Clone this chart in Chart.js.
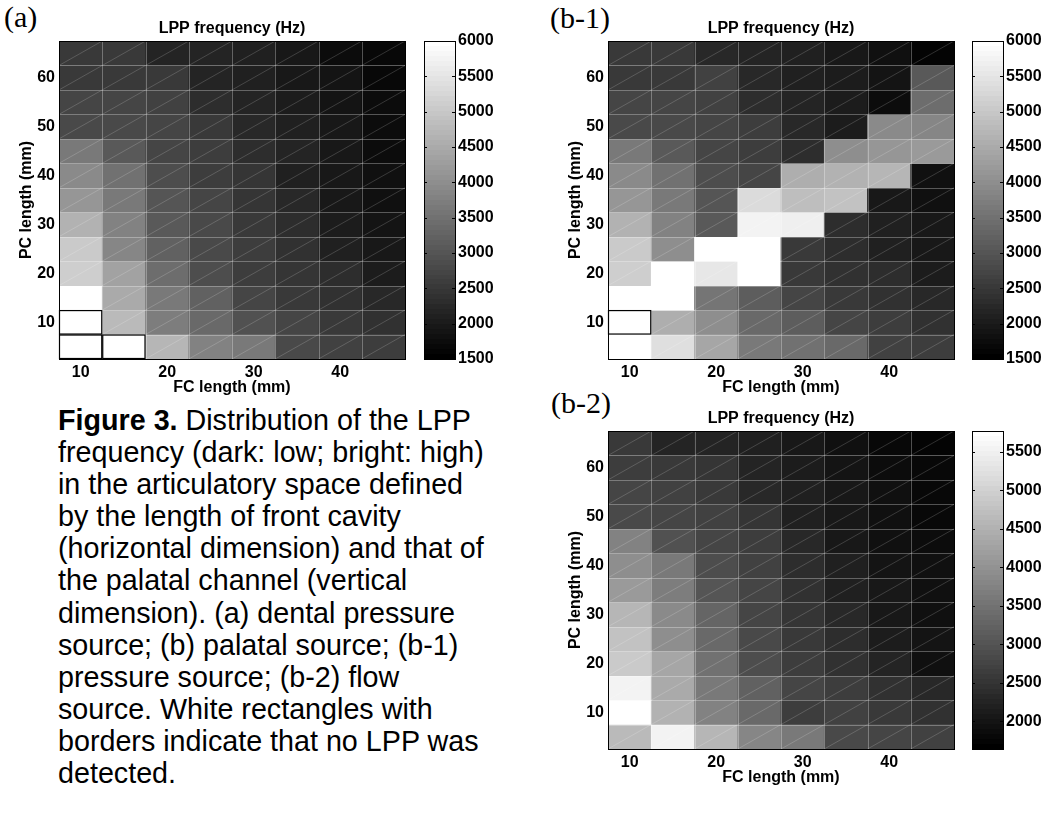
<!DOCTYPE html>
<html>
<head>
<meta charset="utf-8">
<script src="https://cdn.jsdelivr.net/npm/chart.js@4.4.1/dist/chart.umd.min.js"></script>
<style>
  body { margin: 0; background: #fff; width: 1045px; height: 813px; position: relative; overflow: hidden; }
  canvas { position: absolute; }
  .panel { position: absolute; font-family: "Liberation Serif", "Times New Roman", serif; font-size: 30px; line-height: 30px; color: #000; }
  #caption { position: absolute; left: 58px; top: 404px; font-family: "Liberation Sans", Arial, sans-serif; font-size: 28.7px; line-height: 32.1px; color: #000; white-space: nowrap; }
</style>
</head>
<body>
<div class="panel" style="left:4px; top:2px">(a)</div>
<div class="panel" style="left:550px; top:3px">(b-1)</div>
<div class="panel" style="left:551px; top:388px">(b-2)</div>

<canvas id="mapA" width="410" height="400" style="left:0; top:0"></canvas>
<canvas id="barA" width="73" height="400" style="left:424px; top:0"></canvas>
<canvas id="mapB1" width="410" height="400" style="left:549px; top:0"></canvas>
<canvas id="barB1" width="73" height="400" style="left:972px; top:0"></canvas>
<canvas id="mapB2" width="410" height="400" style="left:549px; top:390px"></canvas>
<canvas id="barB2" width="73" height="400" style="left:972px; top:390px"></canvas>

<div id="caption"><b>Figure 3.</b> Distribution of the LPP<br>frequency (dark: low; bright: high)<br>in the articulatory space defined<br>by the length of front cavity<br>(horizontal dimension) and that of<br>the palatal channel (vertical<br>dimension). (a) dental pressure<br>source; (b) palatal source; (b-1)<br>pressure source; (b-2) flow<br>source. White rectangles with<br>borders indicate that no LPP was<br>detected.</div>

<script>
// FC length (columns) and PC length (rows, top row first), mm
const fcLengths = [10, 15, 20, 25, 30, 35, 40, 45];
const pcLengths = [65, 60, 55, 50, 45, 40, 35, 30, 25, 20, 15, 10, 5];
const cellStep = 5;
const xTickLabels = [10, 20, 30, 40];
const yTickLabels = [10, 20, 30, 40, 50, 60];

// LPP frequency in Hz, one row per pcLengths entry; null = no LPP detected
const lppDental = [
  [2520, 2490, 2170, 2140, 2070, 1960, 1780, 1680],
  [2520, 2520, 2490, 2170, 2100, 1990, 1870, 1710],
  [2750, 2720, 2630, 2280, 2170, 2030, 1890, 1750],
  [2810, 2770, 2700, 2520, 2240, 2100, 1960, 1780],
  [3620, 3090, 2750, 2560, 2310, 2170, 1960, 1780],
  [3940, 3530, 2860, 2590, 2450, 2100, 1990, 1820],
  [4130, 3650, 3000, 2720, 2450, 2210, 1960, 1850],
  [4660, 3760, 3070, 2770, 2520, 2310, 2030, 1920],
  [5030, 3880, 3190, 2810, 2560, 2400, 2070, 1960],
  [5150, 4320, 3440, 2890, 2590, 2450, 2280, 2030],
  [6000, 4470, 3650, 3190, 2750, 2520, 2350, 2240],
  [null, 4750, 3720, 3390, 2950, 2700, 2490, 2350],
  [null, null, 4690, 3760, 3650, 2810, 2670, 2590],
];

const lppPalatalPressure = [
  [2520, 2490, 2240, 2170, 2100, 1960, 1820, 1640],
  [2520, 2520, 2630, 2210, 2100, 2030, 1890, 3050],
  [2750, 2700, 2630, 2310, 2170, 2030, 1750, 3440],
  [2810, 2770, 2750, 2560, 2210, 2030, 3940, 3850],
  [3620, 3070, 2750, 2590, 2310, 4010, 4130, 4220],
  [3900, 3530, 2860, 2720, 4540, 4610, 4690, 1850],
  [4130, 3650, 3000, 5330, 4840, 4920, 1990, 1850],
  [4660, 3780, 3070, 5740, 5680, 2280, 2100, 1990],
  [5030, 4010, 6000, 6000, 2520, 2310, 2100, 1960],
  [5150, 6000, 5560, 6000, 2520, 2400, 2280, 2030],
  [6000, 6000, 3600, 3160, 2700, 2520, 2400, 2240],
  [null, 4540, 4010, 3390, 3160, 2750, 2560, 2400],
  [6000, 5380, 4430, 3650, 3510, 3370, 2670, 2590],
];

const lppPalatalFlow = [
  [2580, 2260, 2260, 2190, 2090, 1960, 1830, 1720],
  [2610, 2580, 2520, 2260, 2130, 2000, 1870, 1770],
  [2790, 2680, 2580, 2320, 2160, 2030, 1900, 1800],
  [2840, 2790, 2680, 2520, 2190, 2060, 1930, 1830],
  [3730, 2970, 2740, 2610, 2320, 2090, 1960, 1870],
  [3940, 3620, 2900, 2680, 2390, 2160, 2000, 1900],
  [4140, 3680, 3020, 2760, 2470, 2190, 2060, 1930],
  [4570, 3840, 3290, 2790, 2520, 2290, 2090, 1960],
  [4800, 3940, 3370, 2840, 2580, 2390, 2130, 2000],
  [4930, 4310, 3490, 2900, 2610, 2470, 2260, 1960],
  [5560, 4360, 3620, 3200, 2790, 2610, 2470, 2320],
  [5770, 4540, 3710, 3370, 2640, 2680, 2580, 2470],
  [4620, 5530, 4570, 3800, 3620, 2840, 2790, 2710],
];

// colour limits and colorbar ticks
const rangeDental = [1500, 6000];
const rangePressure = [1500, 6000];
const rangeFlow = [1640, 5770];
const cbTicks = [1500, 2000, 2500, 3000, 3500, 4000, 4500, 5000, 5500, 6000];
const cbTicksFlow = [2000, 2500, 3000, 3500, 4000, 4500, 5000, 5500];

const axisFont = { family: '"Liberation Sans", Arial, sans-serif', size: 16, weight: 'bold' };
Chart.defaults.color = "#000";

// MATLAB-like 64 level gray map
function grayFor(v, lo, hi) {
  const idx = Math.min(63, Math.max(0, Math.floor(((v - lo) / (hi - lo)) * 64)));
  const g = Math.round((idx / 63) * 255);
  return `rgb(${g},${g},${g})`;
}

// grid lines, mesh diagonals, empty-cell borders and frame on top of the cells
const cellLines = {
  id: "cellLines",
  afterDatasetsDraw(chart, args, opts) {
    const { ctx, chartArea: a, scales: { x, y } } = chart;
    const xe = fcLengths.map((_, i) => x.getPixelForValue(i - 0.5));
    xe.push(x.getPixelForValue(fcLengths.length - 0.5));
    const ye = pcLengths.map((pc) => y.getPixelForValue(pc + cellStep / 2));
    ye.push(y.getPixelForValue(pcLengths[pcLengths.length - 1] - cellStep / 2));
    ctx.save();

    // diagonals
    ctx.strokeStyle = "rgba(255,255,255,0.22)";
    ctx.lineWidth = 0.8;
    ctx.beginPath();
    for (let r = 0; r < pcLengths.length; r++) {
      for (let c = 0; c < fcLengths.length; c++) {
        ctx.moveTo(xe[c], ye[r + 1]);
        ctx.lineTo(xe[c + 1], ye[r]);
      }
    }
    ctx.stroke();

    // cell boundaries
    ctx.strokeStyle = "rgba(255,255,255,0.3)";
    ctx.lineWidth = 1;
    ctx.beginPath();
    xe.forEach((px) => {
      const p = Math.round(px) + 0.5;
      ctx.moveTo(p, a.top);
      ctx.lineTo(p, a.bottom);
    });
    ye.forEach((py) => {
      const p = Math.round(py) + 0.5;
      ctx.moveTo(a.left, p);
      ctx.lineTo(a.right, p);
    });
    ctx.stroke();

    // no LPP detected
    ctx.strokeStyle = "#000";
    ctx.lineWidth = 1.2;
    opts.values.forEach((row, r) => {
      row.forEach((v, c) => {
        if (v === null) {
          ctx.strokeRect(xe[c] + 0.5, ye[r] + 0.5, xe[c + 1] - xe[c] - 1, ye[r + 1] - ye[r] - 1);
        }
      });
    });

    // axes box
    ctx.lineWidth = 1;
    ctx.strokeRect(Math.round(a.left) + 0.5, Math.round(a.top) + 0.5, Math.round(a.width), Math.round(a.height));
    ctx.restore();
  },
};

// frame and inward ticks of a colorbar
const barFrame = {
  id: "barFrame",
  afterDatasetsDraw(chart) {
    const { ctx, chartArea: a, scales: { y } } = chart;
    ctx.save();
    ctx.strokeStyle = "#000";
    ctx.lineWidth = 1;
    ctx.strokeRect(Math.round(a.left) + 0.5, Math.round(a.top) + 0.5, Math.round(a.width), Math.round(a.height));
    ctx.beginPath();
    y.ticks.forEach((t) => {
      const p = Math.round(y.getPixelForValue(t.value)) + 0.5;
      ctx.moveTo(a.left, p);
      ctx.lineTo(a.left + 3, p);
      ctx.moveTo(a.right - 3, p);
      ctx.lineTo(a.right, p);
    });
    ctx.stroke();
    ctx.restore();
  },
};

function heatmap(canvasId, values, range) {
  const [lo, hi] = range;
  const datasets = values.map((row, r) => ({
    data: fcLengths.map(() => [pcLengths[r] - cellStep / 2, pcLengths[r] + cellStep / 2]),
    backgroundColor: row.map((v) => (v === null ? "#fff" : grayFor(v, lo, hi))),
    borderWidth: 0,
    grouped: false,
    barPercentage: 1,
    categoryPercentage: 1,
  }));
  new Chart(document.getElementById(canvasId), {
    type: "bar",
    data: { labels: fcLengths.map(String), datasets },
    options: {
      responsive: false,
      animation: false,
      devicePixelRatio: 1,
      layout: { padding: { left: 0, right: 5, top: 0, bottom: 1 } },
      plugins: {
        legend: { display: false },
        tooltip: { enabled: false },
        title: {
          display: true,
          text: "LPP frequency (Hz)",
          fullSize: false,
          color: "#000",
          font: axisFont,
          padding: { top: 19.4, bottom: 2.4 },
        },
        cellLines: { values },
      },
      scales: {
        x: {
          type: "category",
          grid: { display: false, drawTicks: false },
          border: { display: false },
          ticks: {
            font: axisFont,
            padding: 4,
            autoSkip: false,
            maxRotation: 0,
            callback: (val, i) => (xTickLabels.includes(fcLengths[i]) ? String(fcLengths[i]) : ""),
          },
          title: { display: true, text: "FC length (mm)", font: axisFont, padding: { top: 0, bottom: 2 } },
          afterFit: (s) => { s.height = 40; },
        },
        y: {
          type: "linear",
          min: Math.min(...pcLengths) - cellStep / 2,
          max: Math.max(...pcLengths) + cellStep / 2,
          grid: { display: false, drawTicks: false },
          border: { display: false },
          ticks: { font: axisFont, padding: 4 },
          afterBuildTicks: (s) => { s.ticks = yTickLabels.map((v) => ({ value: v })); },
          title: { display: true, text: "PC length (mm)", font: axisFont, padding: { top: 17, bottom: 0 } },
          afterFit: (s) => { s.width = 59; },
        },
      },
    },
    plugins: [cellLines],
  });
}

function colorbar(canvasId, range, ticks) {
  const [lo, hi] = range;
  new Chart(document.getElementById(canvasId), {
    type: "bar",
    data: {
      labels: [""],
      datasets: [{
        data: [[lo, hi]],
        borderWidth: 0,
        barPercentage: 1,
        categoryPercentage: 1,
        backgroundColor: (c) => {
          const a = c.chart.chartArea;
          if (!a) return "#808080";
          const g = c.chart.ctx.createLinearGradient(0, a.bottom, 0, a.top);
          for (let k = 0; k < 64; k++) {
            const col = grayFor(lo + ((k + 0.5) / 64) * (hi - lo), lo, hi);
            g.addColorStop(k / 64, col);
            g.addColorStop((k + 1) / 64, col);
          }
          return g;
        },
      }],
    },
    options: {
      responsive: false,
      animation: false,
      devicePixelRatio: 1,
      layout: { padding: { left: 0, right: 0, top: 41, bottom: 41 } },
      plugins: { legend: { display: false }, tooltip: { enabled: false } },
      scales: {
        x: { display: false },
        y: {
          position: "right",
          min: lo,
          max: hi,
          grid: { display: false, drawTicks: false },
          border: { display: false },
          ticks: { font: axisFont, padding: 3, callback: (v) => String(v) },
          afterBuildTicks: (s) => { s.ticks = ticks.map((v) => ({ value: v })); },
          afterFit: (s) => { s.width = 42; },
        },
      },
    },
    plugins: [barFrame],
  });
}

// (a) dental pressure source
heatmap("mapA", lppDental, rangeDental);
colorbar("barA", rangeDental, cbTicks);

// (b-1) palatal pressure source
heatmap("mapB1", lppPalatalPressure, rangePressure);
colorbar("barB1", rangePressure, cbTicks);

// (b-2) palatal flow source
heatmap("mapB2", lppPalatalFlow, rangeFlow);
colorbar("barB2", rangeFlow, cbTicksFlow);
</script>
</body>
</html>
